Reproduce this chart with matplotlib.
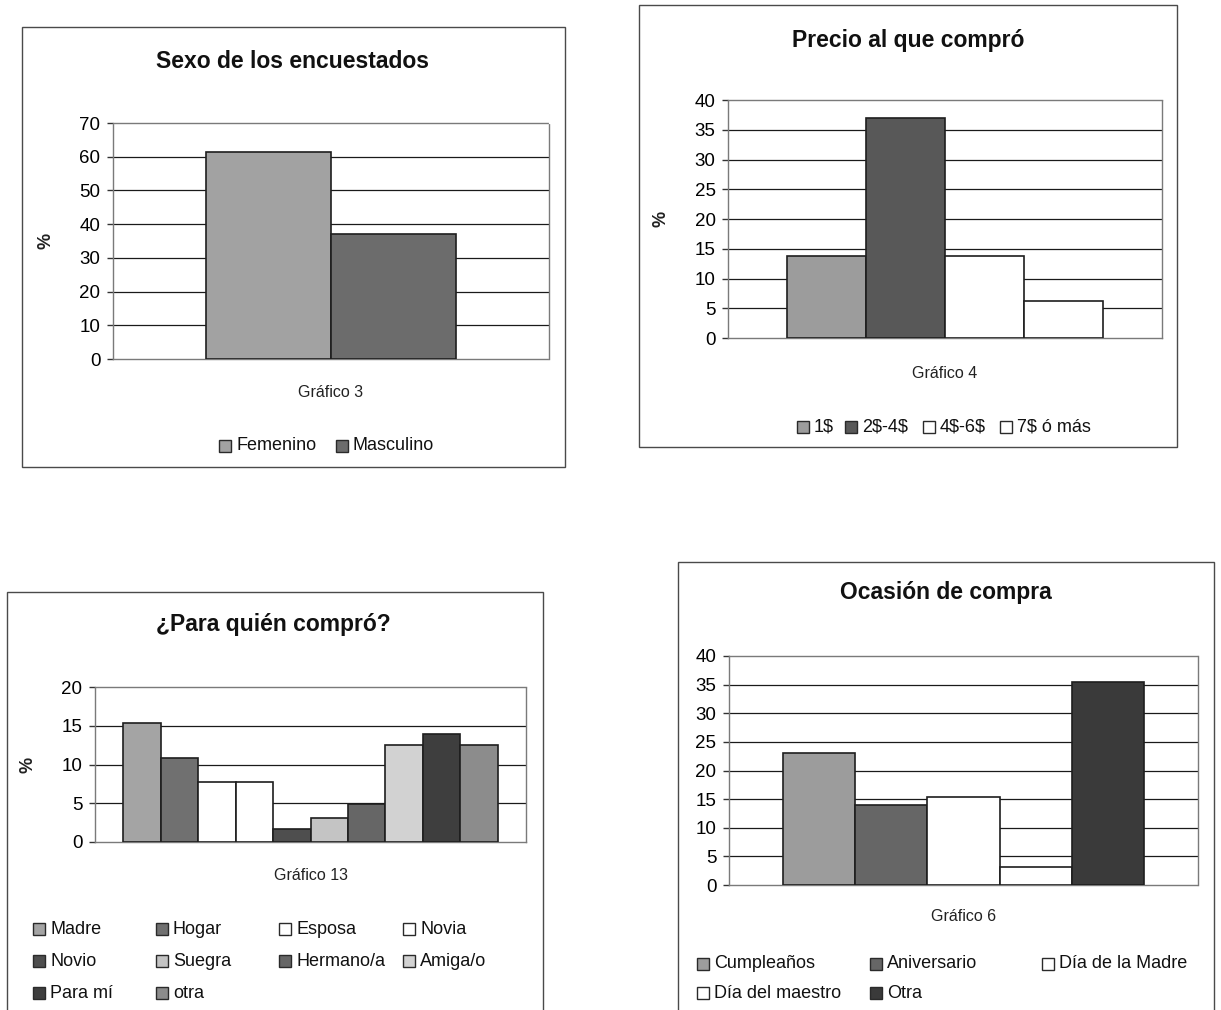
import matplotlib
matplotlib.use("Agg")
import matplotlib.pyplot as plt
from matplotlib.patches import Rectangle

plt.rcParams['font.family'] = ['Liberation Sans', 'DejaVu Sans']

# ---- data -------------------------------------------------------------
sexo_labels = ['Femenino', 'Masculino']
sexo_values = [61.5, 37.0]
sexo_colors = ['#a2a2a2', '#6c6c6c']

precio_labels = ['1$', '2$-4$', '4$-6$', '7$ ó más']
precio_values = [13.8, 37.0, 13.8, 6.2]
precio_colors = ['#9c9c9c', '#585858', '#ffffff', '#ffffff']

quien_labels = ['Madre', 'Hogar', 'Esposa', 'Novia', 'Novio', 'Suegra',
                'Hermano/a', 'Amiga/o', 'Para mí', 'otra']
quien_values = [15.4, 10.9, 7.8, 7.8, 1.7, 3.1, 4.9, 12.5, 14.0, 12.5]
quien_colors = ['#a4a4a4', '#707070', '#ffffff', '#ffffff', '#4e4e4e',
                '#c4c4c4', '#666666', '#d2d2d2', '#3e3e3e', '#8c8c8c']

ocasion_labels = ['Cumpleaños', 'Aniversario', 'Día de la Madre',
                  'Día del maestro', 'Otra']
ocasion_values = [23.1, 13.9, 15.4, 3.1, 35.4]
ocasion_colors = ['#9c9c9c', '#666666', '#ffffff', '#ffffff', '#3a3a3a']

# ---- figure helpers ---------------------------------------------------
W, H = 1221, 1010
fig = plt.figure(figsize=(W / 100, H / 100), dpi=100)


def fx(x):
    return x / W


def fy(y):
    return 1 - y / H


def frame(x0, y0, x1, y1):
    fig.patches.append(Rectangle((fx(x0), fy(y1)), (x1 - x0) / W, (y1 - y0) / H,
                                 transform=fig.transFigure, fill=False,
                                 ec='#4a4a4a', lw=1.0))


def chart(box, values, colors, ymax, ystep, category, cat_pad, ylabel=None):
    left, top, right, bottom = box
    ax = fig.add_axes([fx(left), fy(bottom), (right - left) / W, (bottom - top) / H])
    n = len(values)
    xs = list(range(n))
    for x, v, c in zip(xs, values, colors):
        ax.bar(x, v, width=1.0, color=c, edgecolor='#1e1e1e', linewidth=1.2, zorder=3)
    ax.set_xlim(-1.25, n + 0.25)
    ax.set_ylim(0, ymax)
    ticks = list(range(0, ymax + 1, ystep))
    ax.set_yticks(ticks)
    ax.set_xticks([(n - 1) / 2])
    ax.set_xticklabels([category], fontsize=11.5, color='#222222')
    ax.tick_params(axis='x', length=0, pad=cat_pad)
    ax.tick_params(axis='y', length=4, width=1, direction='out', pad=5,
                   labelsize=13.5, color='#333333')
    ax.grid(axis='y', color='#1a1a1a', linewidth=0.9, linestyle='-', zorder=1)
    gl = ax.yaxis.get_gridlines()
    gl[0].set_visible(False)
    gl[-1].set_visible(False)
    for s in ax.spines.values():
        s.set_linestyle((0, (1, 1)))
        s.set_color('#7a7a7a')
        s.set_linewidth(1.0)
    if ylabel:
        ax.set_ylabel(ylabel, fontsize=13, fontweight='bold', color='#222222')
        ax.yaxis.set_label_coords(-0.135, 0.5)
    return ax


def title(x, y, text):
    fig.text(fx(x), fy(y), text, ha='center', va='center',
             fontsize=16.5, fontweight='bold', color='#111111')


def legend_row(labels, colors, xs, y):
    for lab, col, x in zip(labels, colors, xs):
        fig.patches.append(Rectangle((fx(x), fy(y + 6)), 12 / W, 12 / H,
                                     transform=fig.transFigure, fc=col,
                                     ec='#2a2a2a', lw=1.0))
        fig.text(fx(x + 17), fy(y), lab, ha='left', va='center',
                 fontsize=13, color='#111111', parse_math=False)


# ---- Gráfico 3 --------------------------------------------------------
frame(22, 27, 565, 467)
title(293, 61, 'Sexo de los encuestados')
chart((113, 123, 549, 359), sexo_values, sexo_colors, 70, 10,
      'Gráfico 3', 19, ylabel='%')
legend_row(sexo_labels, sexo_colors, [219, 336], 446)

# ---- Gráfico 4 --------------------------------------------------------
frame(639, 5, 1177, 447)
title(908, 40, 'Precio al que compró')
chart((728, 100, 1162, 338), precio_values, precio_colors, 40, 5,
      'Gráfico 4', 20, ylabel='%')
legend_row(precio_labels, precio_colors, [797, 845, 923, 1000], 427)

# ---- Gráfico 13 -------------------------------------------------------
frame(7, 592, 543, 1030)
title(273, 625, '¿Para quién compró?')
chart((95, 687, 526, 842), quien_values, quien_colors, 20, 5,
      'Gráfico 13', 19, ylabel='%')
cols3 = [33, 156, 279, 403]
legend_row(quien_labels[0:4], quien_colors[0:4], cols3, 929)
legend_row(quien_labels[4:8], quien_colors[4:8], cols3, 961)
legend_row(quien_labels[8:10], quien_colors[8:10], cols3[:2], 993)

# ---- Gráfico 6 --------------------------------------------------------
frame(678, 562, 1214, 1030)
title(946, 592, 'Ocasión de compra')
chart((729, 656, 1198, 885), ocasion_values, ocasion_colors, 40, 5,
      'Gráfico 6', 17)
cols4 = [697, 870, 1042]
legend_row(ocasion_labels[0:3], ocasion_colors[0:3], cols4, 964)
legend_row(ocasion_labels[3:5], ocasion_colors[3:5], cols4[:2], 993)

fig.savefig('out.png', dpi=100)
